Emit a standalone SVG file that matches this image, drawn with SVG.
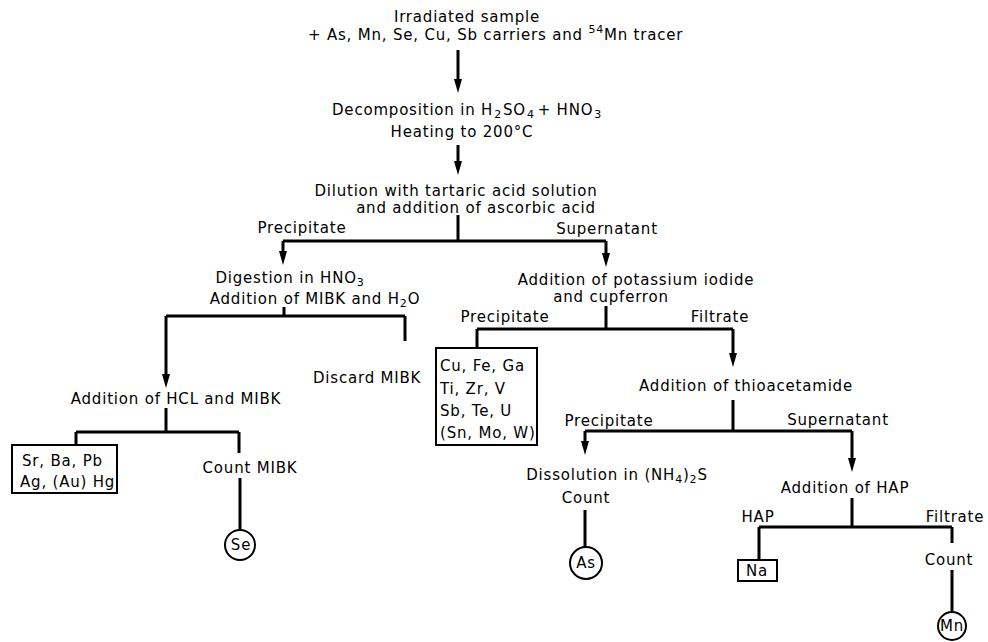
<svg xmlns="http://www.w3.org/2000/svg" width="988" height="642" viewBox="0 0 988 642">
<style>
text{font-family:"DejaVu Sans","Liberation Sans",sans-serif;font-size:15px;fill:#000;letter-spacing:0.8px}
.m{text-anchor:middle}
.s{font-size:11px}
.c{fill:none;stroke:#000;stroke-width:3}
.a{fill:none;stroke:#000;stroke-width:3;marker-end:url(#ah)}
.b{fill:#fff;stroke:#000;stroke-width:2}
.o{fill:#fff;stroke:#000;stroke-width:2}
</style>
<defs>
<marker id="ah" markerUnits="userSpaceOnUse" markerWidth="14" markerHeight="8" refX="1" refY="4" orient="auto"><path d="M0,0 L14,4 L0,8 z" fill="#000"/></marker>
</defs>
<rect width="988" height="642" fill="#fff"/>
<g id="connectors">
<path class="a" d="M458,50 V80"/>
<path class="a" d="M458,145 V162"/>
<path class="c" d="M458,215 V241 M283,241 H606"/>
<path class="a" d="M283,241 V252"/>
<path class="a" d="M606,241 V254"/>
<path class="c" d="M284,307 V316 M166,316 H405 M405,316 V341"/>
<path class="a" d="M166,316 V375"/>
<path class="c" d="M166,408 V432 M76,432 H239 M76,432 V445 M239,432 V453 M240,478 V530"/>
<path class="c" d="M606,306 V329 M477,329 H733 M477,329 V348"/>
<path class="a" d="M733,329 V354"/>
<path class="c" d="M733,400 V431 M585,431 H852"/>
<path class="a" d="M585,431 V442"/>
<path class="a" d="M852,431 V459"/>
<path class="c" d="M585,510 V547"/>
<path class="c" d="M852,498 V527 M759,527 H952 M759,527 V560 M952,527 V543 M952,570 V611"/>
</g>
<g id="n-start">
<text class="m" x="467" y="22">Irradiated sample</text>
<text x="308" y="40">+ As, Mn, Se, Cu, Sb carriers and <tspan class="s" dy="-7">54</tspan><tspan dy="7">Mn tracer</tspan></text>
</g>
<g id="n-decomp">
<text x="332" y="115">Decomposition in H<tspan class="s" dx="1" dy="3">2</tspan><tspan dx="1" dy="-3">SO</tspan><tspan class="s" dx="1" dy="3">4</tspan><tspan dx="3" dy="-3">+ HNO</tspan><tspan class="s" dx="1" dy="3">3</tspan></text>
<text class="m" x="462" y="137">Heating to 200°C</text>
</g>
<g id="n-dilution">
<text class="m" x="456" y="196">Dilution with tartaric acid solution</text>
<text class="m" x="476" y="213">and addition of ascorbic acid</text>
</g>
<g id="l-prec1"><text class="m" x="302" y="233">Precipitate</text></g>
<g id="l-super1"><text class="m" x="607" y="234">Supernatant</text></g>
<g id="n-digestion">
<text class="m" x="290" y="283">Digestion in HNO<tspan class="s" dy="3">3</tspan></text>
<text class="m" x="315" y="304">Addition of MIBK and H<tspan class="s" dy="3">2</tspan><tspan dy="-3">O</tspan></text>
</g>
<g id="n-discard"><text x="313" y="383">Discard MIBK</text></g>
<g id="n-hcl"><text class="m" x="176" y="404">Addition of HCL and MIBK</text></g>
<g id="n-srba">
<rect class="b" x="12" y="445" width="105" height="48"/>
<text x="22" y="466">Sr, Ba, Pb</text>
<text x="20" y="487">Ag, (Au) Hg</text>
</g>
<g id="n-countmibk"><text class="m" x="250" y="473">Count MIBK</text></g>
<g id="n-se">
<circle class="o" cx="240" cy="545" r="15"/>
<text class="m" x="241" y="550">Se</text>
</g>
<g id="n-ki">
<text class="m" x="636" y="285">Addition of potassium iodide</text>
<text class="m" x="611" y="302">and cupferron</text>
</g>
<g id="l-prec2"><text class="m" x="505" y="322">Precipitate</text></g>
<g id="l-filt2"><text class="m" x="720" y="322">Filtrate</text></g>
<g id="n-cufe">
<rect class="b" x="436" y="348" width="101" height="97"/>
<text x="440" y="371">Cu, Fe, Ga</text>
<text x="440" y="394">Ti, Zr, V</text>
<text x="440" y="416">Sb, Te, U</text>
<text x="440" y="438">(Sn, Mo, W)</text>
</g>
<g id="n-thio"><text class="m" x="746" y="391">Addition of thioacetamide</text></g>
<g id="l-prec3"><text class="m" x="609" y="426">Precipitate</text></g>
<g id="l-super3"><text class="m" x="838" y="425">Supernatant</text></g>
<g id="n-dissolution">
<text class="m" x="617" y="480">Dissolution in (NH<tspan class="s" dy="3">4</tspan><tspan dy="-3">)</tspan><tspan class="s" dy="3">2</tspan><tspan dy="-3">S</tspan></text>
<text class="m" x="586" y="503">Count</text>
</g>
<g id="n-as">
<circle class="o" cx="586" cy="563" r="16"/>
<text class="m" x="586" y="568">As</text>
</g>
<g id="n-hap"><text class="m" x="845" y="493">Addition of HAP</text></g>
<g id="l-hap"><text class="m" x="758" y="522">HAP</text></g>
<g id="l-filt4"><text class="m" x="955" y="522">Filtrate</text></g>
<g id="n-na">
<rect class="b" x="738" y="560" width="39" height="21"/>
<text class="m" x="757" y="576">Na</text>
</g>
<g id="n-count4"><text class="m" x="949" y="565">Count</text></g>
<g id="n-mn">
<circle class="o" cx="952" cy="626" r="14"/>
<text class="m" x="952" y="631">Mn</text>
</g>
</svg>
